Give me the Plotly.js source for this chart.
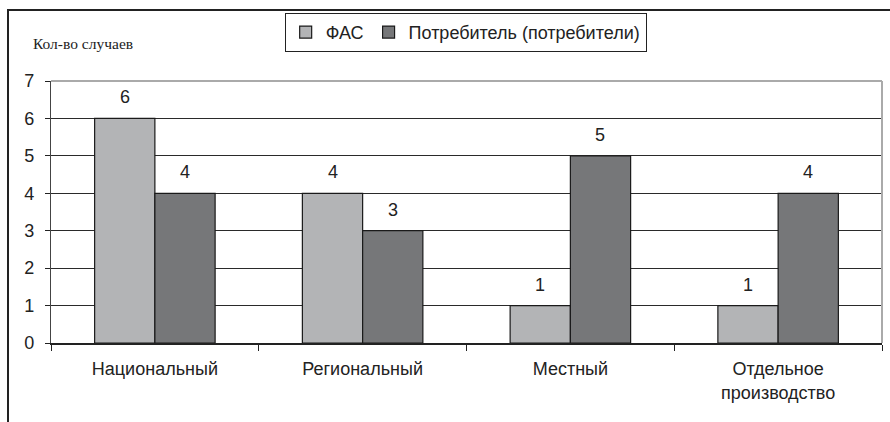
<!DOCTYPE html>
<html><head><meta charset="utf-8">
<script src="https://cdn.plot.ly/plotly-3.0.1.min.js"></script>
<style>
html,body{margin:0;padding:0;background:#fff;}
#wrap{position:relative;width:890px;height:422px;overflow:hidden;}
#frame{position:absolute;left:7px;top:9px;width:900px;height:430px;border-top:2px solid #222;border-left:2px solid #222;pointer-events:none;}
#chart{position:absolute;left:0;top:0;width:890px;height:422px;}
</style></head>
<body><div id="wrap"><div id="chart"></div><div id="frame"></div></div>
<script>
const categories = ["Национальный", "Региональный", "Местный", "Отдельное<br>производство"];
const seriesNames = ["ФАС", "Потребитель (потребители)"];
const fasValues = [6, 4, 1, 1];
const consumerValues = [4, 3, 5, 4];
const yTitle = "Кол-во случаев";

const colors = ["#b3b4b6", "#767779"];
const font = "Liberation Sans, Arial, sans-serif";

const traces = [fasValues, consumerValues].map((vals, i) => ({
  type: "bar",
  name: seriesNames[i],
  x: categories,
  y: vals,
  marker: {color: colors[i], line: {color: "#1a1a1a", width: 1.2}},
  hoverinfo: "none"
}));

const annotations = [];
[fasValues, consumerValues].forEach((vals, i) => {
  vals.forEach((v, j) => {
    annotations.push({
      x: categories[j], y: v, xref: "x", yref: "y",
      text: String(v), showarrow: false,
      xshift: i === 0 ? -30 : 30, yshift: 9, yanchor: "bottom",
      font: {family: font, size: 18, color: "#222"}
    });
  });
});
annotations.push({
  xref: "paper", yref: "paper", x: -0.024, y: 1.145, xanchor: "left", yanchor: "middle",
  text: yTitle, showarrow: false,
  font: {family: "Liberation Serif, Times New Roman, serif", size: 15.5, color: "#222"}
});

const layout = {
  width: 890, height: 422,
  margin: {l: 51, r: 8, t: 81, b: 79},
  paper_bgcolor: "#fff", plot_bgcolor: "#fff",
  barmode: "group", bargap: 0.42, bargroupgap: 0,
  font: {family: font, size: 18, color: "#222"},
  showlegend: true,
  legend: {
    orientation: "h", x: 0.499, xanchor: "center", y: 1.26, yanchor: "top",
    bordercolor: "#222", borderwidth: 1, bgcolor: "#fff",
    font: {family: font, size: 18, color: "#222"},
    itemwidth: 30, tracegroupgap: 0
  },
  xaxis: {
    type: "category", tickson: "boundaries", ticks: "outside", ticklen: 6, tickcolor: "#222",
    showline: true, linecolor: "#222", linewidth: 1.5, showgrid: false,
    ticklabelstandoff: 9,
    tickfont: {family: font, size: 18, color: "#222"}, fixedrange: true
  },
  yaxis: {
    range: [0, 7], dtick: 1, tick0: 0, ticks: "outside", ticklen: 5, tickcolor: "#222",
    showline: true, linecolor: "#444", linewidth: 1.2,
    showgrid: true, gridcolor: "#2a2a2a", gridwidth: 1, zeroline: false,
    ticklabelstandoff: 7,
    tickfont: {family: font, size: 18, color: "#222"}, fixedrange: true
  },
  shapes: [
    {type: "line", xref: "paper", yref: "paper", x0: 0, x1: 1, y0: 1, y1: 1, line: {color: "#aaa", width: 2}, layer: "above"},
    {type: "line", xref: "paper", yref: "paper", x0: 1, x1: 1, y0: 0, y1: 1, line: {color: "#aaa", width: 2}, layer: "above"}
  ],
  annotations: annotations
};

Plotly.newPlot("chart", traces, layout, {displayModeBar: false, staticPlot: true});
</script></body></html>
